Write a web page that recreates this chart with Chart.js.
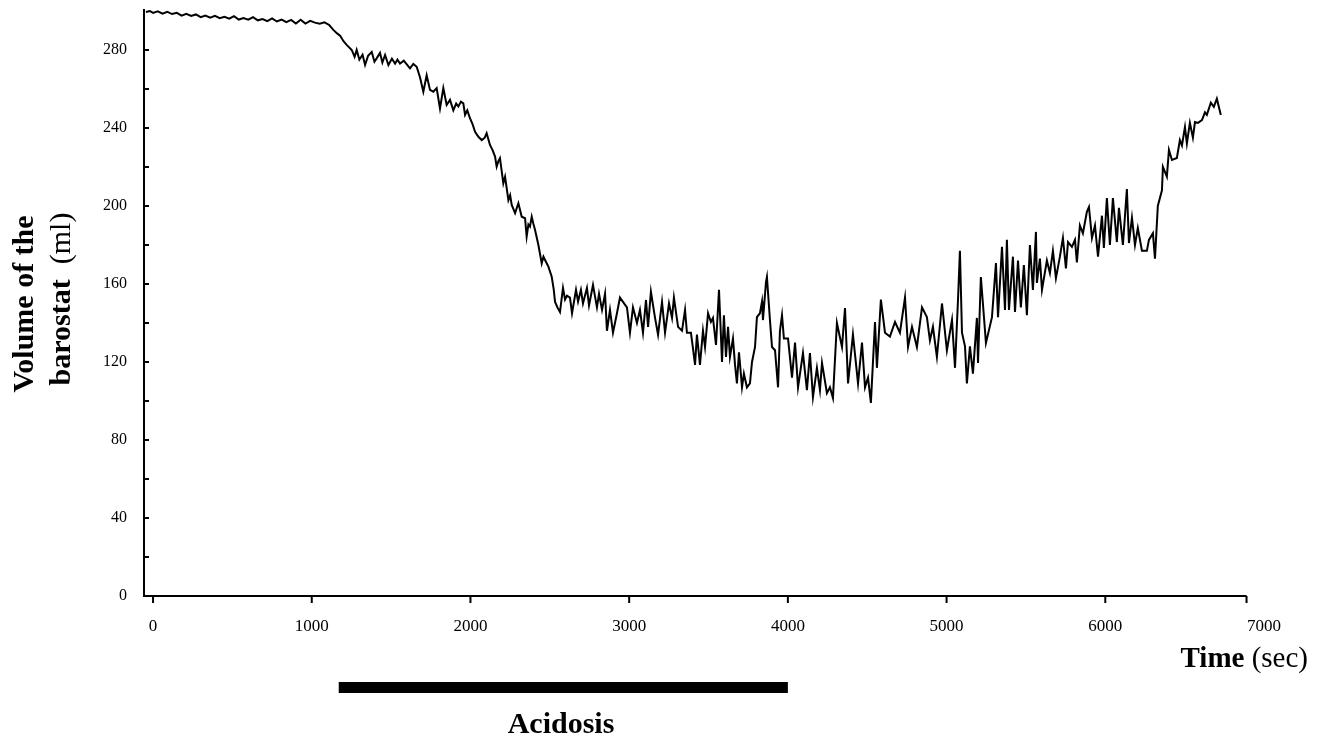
<!DOCTYPE html>
<html>
<head>
<meta charset="utf-8">
<script src="https://cdn.jsdelivr.net/npm/chart.js@4.4.1/dist/chart.umd.min.js"></script>
<style>
html,body{margin:0;padding:0;background:#fff;}
#wrap{position:relative;width:1325px;height:740px;}
</style>
</head>
<body>
<div id="wrap"><canvas id="c"></canvas></div>
<script>
// ---- data ----
const timeSec = [-45,-20,0,30,60,90,120,150,180,210,240,270,300,330,360,390,420,450,480,510,540,570,600,630,660,690,720,750,780,810,840,870,900,930,960,990,1020,1050,1080,1110,1136,1160,1180,1200,1220,1252,1270,1283,1300,1320,1336,1355,1378,1395,1409,1430,1445,1462,1483,1505,1525,1540,1556,1580,1600,1619,1640,1661,1682,1703,1724,1745,1766,1787,1808,1829,1850,1871,1892,1910,1924,1940,1955,1966,1980,1997,2013,2029,2050,2071,2090,2102,2123,2140,2155,2165,2176,2186,2207,2218,2239,2250,2260,2281,2302,2323,2344,2354,2365,2375,2386,2396,2407,2428,2449,2460,2470,2491,2512,2525,2533,2548,2564,2583,2596,2608,2627,2640,2665,2678,2696,2709,2734,2747,2772,2797,2810,2829,2848,2860,2879,2898,2923,2942,2961,2986,3005,3024,3049,3068,3087,3106,3119,3137,3163,3182,3207,3226,3251,3270,3282,3308,3333,3352,3364,3389,3402,3415,3427,3446,3465,3478,3497,3515,3528,3547,3566,3585,3597,3610,3623,3635,3654,3667,3679,3692,3711,3723,3742,3761,3774,3793,3805,3824,3837,3843,3862,3868,3887,3900,3919,3938,3950,3963,3975,4001,4026,4045,4064,4095,4120,4139,4158,4183,4202,4215,4246,4265,4284,4309,4341,4360,4379,4410,4442,4467,4486,4505,4523,4549,4561,4586,4612,4643,4675,4706,4738,4757,4782,4813,4845,4876,4895,4914,4939,4971,5002,5034,5053,5072,5084,5097,5116,5128,5147,5166,5191,5198,5216,5248,5286,5311,5324,5349,5368,5380,5393,5418,5431,5450,5468,5487,5506,5525,5544,5563,5569,5588,5601,5632,5651,5670,5689,5714,5733,5752,5765,5790,5809,5821,5840,5859,5884,5897,5916,5935,5954,5979,5991,6010,6029,6048,6073,6086,6111,6136,6149,6168,6187,6205,6231,6262,6275,6300,6313,6331,6357,6363,6388,6401,6420,6451,6470,6483,6502,6514,6533,6552,6565,6584,6609,6628,6640,6665,6684,6703,6728];
const volumeMl = [299.5,300,299,299.8,298.6,299.5,298.4,299,297.6,298.5,297.4,298.2,296.8,297.6,296.6,297.5,296.3,297,296,297.3,295.6,296.4,295.5,296.8,295.2,295.8,294.8,296.2,294.6,295.6,294.3,295.4,293.6,295.5,293.5,294.9,294,293.4,294.2,292.8,290.3,288.5,287.2,284.5,282.6,280,276.5,280,275,277.5,272.3,277,279,274,275.7,278.5,273.5,277.4,272.3,275.5,273,275,273,274.5,272.5,270.6,272.8,271.4,266,258.6,267,259.5,258.6,260.4,250,260.4,251.8,254.4,249,252.5,251,253.5,252.6,246.7,249,245,242,238,235.5,233.8,235,237.3,231.3,228.5,225.3,220.2,223,224.5,211.6,215,203,205.5,200.5,196.3,201.4,194.5,193.7,184.3,190.5,189.4,194.5,191,187.7,180,170.6,174,172.3,168.9,163.7,157,150.8,148,145.6,158,152,154,153,145,157,151,157,150,158,149,159.5,148,155,146.7,155,136,146.7,135,145,153,150.8,148,135,148,140,146.7,135,151.8,138,156,142.6,134,150.8,135,150,142.6,153,138,136,146.7,135,135,127,118.5,134,118.5,136,127.7,145,140.5,142.6,128.7,157,120,144,122.6,138,122.6,132,118.5,109,125,107,114,107,109,120,127.7,143,145,151,141.5,161,163.6,141.5,127.7,126,107,136,144,132,132,112,130,107,124.6,105.6,124.6,102,117,105.6,119.5,104,107,101.5,140,127.7,147.7,109,134,109,130,107,112,99,140.5,117,152,135,133,140.5,135,153,127.7,138,127.7,148,143,131,138,122.6,150,126,141.5,117,152,177,135,128,109,128,114,142.6,119.5,163.6,129.7,143,170.7,143,179,146.7,182.6,146.7,174,145.6,172,148,169.7,144,180,157,186.7,160.5,173,157,172,165.6,177,163,174,183.6,168,181.5,179,182.6,171,190,186,197,199.5,183.6,190,174,195,178.5,204,180,204,181.5,199,180,208.7,181,194,180,188.7,177,177,182.6,186,173,200,208,220,215,228.7,223.6,224.6,233.8,231,240.5,232,242.6,235,243,242.6,244,248,246.7,253,250.8,255,246.7];
const xTickValues = [0,1000,2000,3000,4000,5000,6000,7000];
const yTickValues = [0,40,80,120,160,200,240,280];
const yMinorTickValues = [20,60,100,140,180,220,260];
const acidosisRange = [1170, 4000];
const yTitleLine1 = 'Volume of the';
const yTitleLine2Bold = 'barostat';
const yTitleLine2Normal = '  (ml)';
const xTitleBold = 'Time';
const xTitleNormal = ' (sec)';
const barLabel = 'Acidosis';

const points = timeSec.map((t, i) => ({x: t, y: volumeMl[i]}));
const SERIF = '"Liberation Serif", "Times New Roman", serif';

const decor = {
  id: 'decor',
  afterDraw(chart) {
    const ctx = chart.ctx;
    const xs = chart.scales.x, ys = chart.scales.y;
    const left = chart.chartArea.left, bottom = ys.getPixelForValue(0);
    const top = chart.chartArea.top;
    ctx.save();
    ctx.strokeStyle = '#000';
    ctx.fillStyle = '#000';
    ctx.lineWidth = 2;
    // axes
    const xEnd = xs.getPixelForValue(6890);
    ctx.beginPath();
    ctx.moveTo(left, top);
    ctx.lineTo(left, bottom);
    ctx.lineTo(xEnd, bottom);
    ctx.stroke();
    // y ticks (inside)
    ctx.beginPath();
    yTickValues.concat(yMinorTickValues).forEach(v => {
      const py = ys.getPixelForValue(v);
      ctx.moveTo(left, py); ctx.lineTo(left + 5, py);
    });
    ctx.stroke();
    // x ticks (outside)
    ctx.beginPath();
    xTickValues.filter(v => v < 6890).forEach(v => {
      const px = xs.getPixelForValue(v);
      ctx.moveTo(px, bottom); ctx.lineTo(px, bottom + 7);
    });
    ctx.moveTo(xEnd, bottom); ctx.lineTo(xEnd, bottom + 7);
    ctx.stroke();

    // tick labels
    ctx.font = '17px ' + SERIF;
    ctx.textAlign = 'center';
    ctx.textBaseline = 'middle';
    xTickValues.forEach(v => ctx.fillText(String(v), xs.getPixelForValue(v), 627));
    ctx.font = '16px ' + SERIF;
    ctx.textAlign = 'right';
    yTickValues.forEach(v => ctx.fillText(String(v), left - 17, ys.getPixelForValue(v)));

    // y title
    ctx.textBaseline = 'alphabetic';
    ctx.save();
    ctx.translate(33, 304);
    ctx.rotate(-Math.PI / 2);
    ctx.font = 'bold 30px ' + SERIF;
    ctx.textAlign = 'center';
    ctx.fillText(yTitleLine1, 0, 0);
    ctx.restore();

    ctx.save();
    ctx.translate(70, 299);
    ctx.rotate(-Math.PI / 2);
    ctx.textAlign = 'left';
    ctx.font = 'bold 30px ' + SERIF;
    const w1 = ctx.measureText(yTitleLine2Bold).width;
    ctx.font = '30px ' + SERIF;
    const w2 = ctx.measureText(yTitleLine2Normal).width;
    let sx = -(w1 + w2) / 2;
    ctx.font = 'bold 30px ' + SERIF;
    ctx.fillText(yTitleLine2Bold, sx, 0);
    ctx.font = '30px ' + SERIF;
    ctx.fillText(yTitleLine2Normal, sx + w1, 0);
    ctx.restore();

    // x title (right aligned)
    ctx.font = '29px ' + SERIF;
    const wn = ctx.measureText(xTitleNormal).width;
    ctx.font = 'bold 29px ' + SERIF;
    const wb = ctx.measureText(xTitleBold).width;
    const xr = 1308;
    ctx.textAlign = 'left';
    ctx.fillText(xTitleBold, xr - wn - wb, 667);
    ctx.font = '29px ' + SERIF;
    ctx.fillText(xTitleNormal, xr - wn, 667);

    // acidosis bar
    const bx0 = xs.getPixelForValue(acidosisRange[0]);
    const bx1 = xs.getPixelForValue(acidosisRange[1]);
    ctx.fillRect(bx0, 682, bx1 - bx0, 11);
    ctx.font = 'bold 30px ' + SERIF;
    ctx.textAlign = 'center';
    ctx.fillText(barLabel, 561, 733);
    ctx.restore();
  }
};

new Chart(document.getElementById('c'), {
  type: 'line',
  data: {
    datasets: [{
      data: points,
      borderColor: '#000',
      borderWidth: 2,
      pointRadius: 0,
      tension: 0,
      fill: false
    }]
  },
  options: {
    responsive: true,
    maintainAspectRatio: false,
    animation: false,
    events: [],
    layout: {padding: {left: 0, right: 61, top: 9, bottom: 0}},
    plugins: {legend: {display: false}, tooltip: {enabled: false}},
    scales: {
      x: {
        type: 'linear',
        min: -57,
        max: 7000,
        afterBuildTicks: s => { s.ticks = xTickValues.map(v => ({value: v})); },
        afterFit: s => { s.height = 144; },
        grid: {display: false, drawTicks: false},
        border: {display: false},
        ticks: {display: false}
      },
      y: {
        type: 'linear',
        min: 0,
        max: 301,
        afterBuildTicks: s => { s.ticks = yTickValues.map(v => ({value: v})); },
        afterFit: s => { s.width = 144; },
        grid: {display: false, drawTicks: false},
        border: {display: false},
        ticks: {display: false}
      }
    }
  },
  plugins: [decor]
});
</script>
</body>
</html>
